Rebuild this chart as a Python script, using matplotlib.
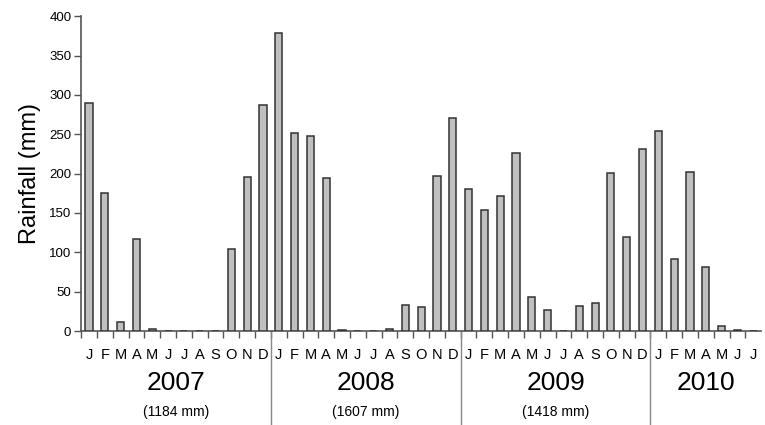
import matplotlib
matplotlib.use('Agg')
import matplotlib.pyplot as plt
import numpy as np

plt.rcParams['font.family'] = ['Liberation Sans', 'DejaVu Sans']

# monthly rainfall (mm), Jan 2007 - Jul 2010
rain_2007 = [290, 176, 12, 117, 3, 0, 0, 0, 0, 104, 196, 287]
rain_2008 = [379, 251, 248, 194, 1, 0, 0, 3, 33, 30, 197, 271]
rain_2009 = [180, 154, 171, 226, 43, 27, 0, 32, 36, 201, 120, 231]
rain_2010 = [254, 91, 202, 82, 6, 2, 0]
months = ['J', 'F', 'M', 'A', 'M', 'J', 'J', 'A', 'S', 'O', 'N', 'D']
years = ['2007', '2008', '2009', '2010']
totals = ['(1184 mm)', '(1607 mm)', '(1418 mm)', '']

rain = rain_2007 + rain_2008 + rain_2009 + rain_2010
n = len(rain)
x = np.arange(n) + 0.5
labels = [months[i % 12] for i in range(n)]

fig = plt.figure(figsize=(7.65, 4.25), dpi=100)
ax = fig.add_axes([0.106, 0.221, 0.889, 0.741])

ax.bar(x, rain, width=0.45, color='#c0c0c0', edgecolor='#333333', linewidth=1.1, zorder=3)

ax.set_xlim(0, n)
ax.set_ylim(0, 400)
ax.set_yticks(range(0, 401, 50))
ax.tick_params(axis='y', labelsize=9.5, length=5, width=1, color='#555555', pad=2)

# ticks at month boundaries, letters centred in each month
ax.set_xticks(np.arange(n))
ax.set_xticklabels([])
ax.set_xticks(x, minor=True)
ax.set_xticklabels(labels, minor=True, fontsize=10.5)
ax.tick_params(axis='x', which='major', length=5, width=1, color='#555555')
ax.tick_params(axis='x', which='minor', length=0, pad=12)

for s in ['top', 'right']:
    ax.spines[s].set_visible(False)
for s in ['left', 'bottom']:
    ax.spines[s].set_color('#555555')
    ax.spines[s].set_linewidth(1.2)

ax.set_ylabel('Rainfall (mm)', fontsize=17, labelpad=6)

# year separators and labels below the axis
trans = ax.get_xaxis_transform()
starts = [0, 12, 24, 36]
ends = [12, 24, 36, n]
for i in range(len(years)):
    if i > 0:
        ax.plot([starts[i], starts[i]], [0, -0.31], transform=trans, color='#888888',
                linewidth=1.0, clip_on=False)
    mid = (starts[i] + ends[i]) / 2
    ax.text(mid, -0.164, years[i], transform=trans, ha='center', va='center', fontsize=19)
    if totals[i]:
        ax.text(mid, -0.256, totals[i], transform=trans, ha='center', va='center', fontsize=10)

fig.savefig('out.png', dpi=100)
